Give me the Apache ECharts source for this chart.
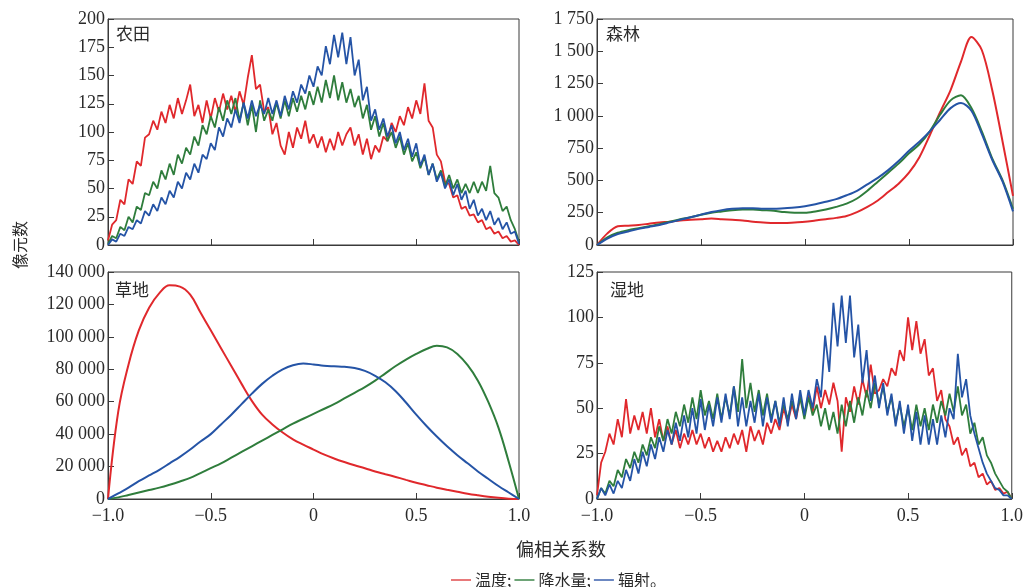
<!DOCTYPE html>
<html><head><meta charset="utf-8">
<script src="https://cdn.jsdelivr.net/npm/echarts@6/dist/echarts.min.js"></script>
<style>html,body{margin:0;padding:0;background:#fff}#c{width:1026px;height:587px}</style>
</head><body><div id="c"></div>
<script>
// ---- categories / labels ----
const seriesNames = ['温度', '降水量', '辐射'];
const panelNames = ['农田', '森林', '草地', '湿地'];
const yAxisName = '像元数';
const xAxisName = '偏相关系数';
const yMax = [200, 1750, 140000, 125];
const yStep = [25, 250, 20000, 25];

// bin centres of the partial correlation coefficient
const xFine = Array.from({length: 101}, (_, i) => +(-1 + i * 0.02).toFixed(2));
const xCoarse = Array.from({length: 41}, (_, i) => +(-1 + i * 0.05).toFixed(2));

// ---- 农田 (fine bins) ----
const farmTemp = [4,18,22,40,36,58,54,74,70,95,
98,110,102,118,108,124,112,130,116,128,
142,114,124,108,128,112,130,118,134,120,
132,118,136,124,148,168,138,142,118,122,
98,108,88,80,100,86,104,94,110,90,
98,86,96,82,94,84,100,88,98,104,
88,98,80,94,76,88,82,96,92,108,
100,114,106,122,112,128,116,143,110,104,
80,74,56,54,42,44,32,34,26,27,
20,22,14,16,10,12,6,8,3,4,
0];
const farmPrec = [1,8,6,16,13,25,20,34,31,46,
44,56,50,66,58,72,62,80,72,86,
80,96,88,106,98,114,104,122,110,128,
116,130,110,126,106,124,100,128,110,120,
110,126,112,128,114,130,118,132,120,136,
124,140,126,146,130,150,128,144,126,138,
122,132,112,124,102,114,96,108,92,100,
86,96,80,90,74,82,68,78,62,72,
58,66,52,62,50,58,46,54,46,56,
46,56,48,70,46,42,30,34,22,14,
3];
const farmRad = [0,5,3,10,8,16,14,22,19,30,
26,36,30,42,36,48,42,56,50,64,
58,72,64,80,76,90,84,104,96,112,
104,120,108,126,112,128,114,124,116,130,
116,128,114,132,120,136,126,142,134,150,
140,158,150,176,160,186,166,188,160,184,
150,164,128,140,110,120,102,112,96,106,
90,100,84,94,78,90,70,80,62,72,
56,64,50,58,44,54,40,48,32,40,
26,32,22,30,18,24,14,20,10,12,
1];

// ---- 森林 (coarse bins) ----
const forestTemp = [0,90,145,150,155,165,175,180,190,195,
200,205,200,195,190,180,175,170,170,175,
180,190,200,210,225,255,295,345,410,475,
560,680,850,1030,1200,1420,1610,1510,1200,800,
380];
const forestPrec = [0,60,95,115,130,145,160,180,200,215,
235,250,260,270,275,275,270,265,255,250,
250,260,275,295,320,360,420,490,560,630,
710,780,880,1010,1120,1160,1060,880,670,500,
280];
const forestRad = [0,50,85,105,125,140,155,175,195,215,
235,255,270,280,285,285,280,280,285,290,
300,315,335,355,385,420,470,520,580,650,
730,800,880,970,1060,1100,1040,860,660,490,
260];

// ---- 草地 (coarse bins) ----
const grassTemp = [0,54000,83000,104000,118000,127000,131800,131000,126000,115000,
104000,93000,82000,71000,60500,52000,46000,41000,36800,33500,
30500,27500,25000,22800,20800,19000,17000,15300,13600,11800,
10000,8500,7000,5700,4500,3300,2300,1400,700,200,
0];
const grassPrec = [0,1000,2500,4000,5500,7000,8800,10800,13000,16000,
19000,22000,25500,29000,32500,36000,39500,43000,46500,49500,
52500,55500,58500,62000,65500,69000,73000,77500,82000,86000,
89500,92500,94500,93500,89500,82500,73000,60000,44000,23000,
0];
const grassRad = [0,3500,7000,11000,14500,18000,22000,26000,30500,35500,
40000,46000,52000,58500,65000,71000,76000,80000,82500,83500,
83000,82200,81800,81500,80800,79000,76000,72000,66500,59500,
52000,45000,38500,32500,27000,22000,17000,12500,8000,4000,
0];

// ---- 湿地 (fine bins) ----
const wetTemp = [2,20,26,36,30,44,34,55,36,46,
38,48,36,50,34,44,32,40,30,38,
28,36,30,38,30,36,28,34,26,32,
26,34,28,36,30,38,26,40,32,38,
30,42,36,44,38,50,42,52,44,56,
46,58,48,62,50,60,52,64,54,26,
56,48,62,52,66,56,74,58,60,66,
62,72,68,82,76,100,82,98,80,88,
68,72,54,60,44,40,30,34,24,28,
18,20,12,14,8,10,5,6,3,4,
0];
const wetPrec = [0,6,3,10,7,16,12,22,17,26,
20,30,24,34,28,40,32,44,36,48,
40,52,42,56,44,60,46,54,44,58,
44,56,46,62,48,77,50,64,48,60,
46,58,44,54,42,52,44,54,46,56,
44,56,46,52,40,50,38,48,36,52,
40,54,42,56,46,60,50,64,52,62,
48,56,42,52,40,50,38,52,40,50,
38,52,42,54,46,58,48,62,46,52,
36,42,30,34,24,20,14,10,6,4,
0];
const wetRad = [0,6,2,8,3,10,6,16,10,22,
14,26,18,30,22,34,26,38,30,42,
32,46,34,50,36,55,38,52,40,56,
42,58,44,62,40,56,40,54,42,58,
40,56,42,54,40,56,40,58,44,60,
46,60,50,66,56,90,70,108,84,112,
86,112,78,96,64,82,54,68,50,64,
46,58,40,54,36,52,32,48,30,46,
30,44,30,46,34,50,44,80,56,66,
46,36,28,20,14,10,6,5,2,2,
0];

// ---- styling ----
const colors = ['#e0282c', '#2f7d3c', '#2554a6'];
const legendColors = ['#e8797a', '#6ea477', '#6c88c2'];
const axisColor = '#3a3a3a';
const textColor = '#2a2a2a';
const serif = '"Liberation Serif", "Times New Roman", serif';
const cjk = '"Noto Sans CJK SC", sans-serif';

const panels = [
  {xs: xFine, data: [farmTemp, farmPrec, farmRad], smooth: false, width: 1.8},
  {xs: xCoarse, data: [forestTemp, forestPrec, forestRad], smooth: 0.3, width: 2},
  {xs: xCoarse, data: [grassTemp, grassPrec, grassRad], smooth: 0.4, width: 2},
  {xs: xFine, data: [wetTemp, wetPrec, wetRad], smooth: false, width: 1.8}
];

const grids = [
  {left: 108, top: 19, width: 411, height: 226},
  {left: 597, top: 19, width: 416, height: 226},
  {left: 108, top: 272, width: 411, height: 227},
  {left: 597, top: 272, width: 416, height: 227}
].map(g => Object.assign(g, {show: true, borderColor: axisColor, borderWidth: 1, backgroundColor: 'transparent'}));

const fmtX = v => v === 0 ? '0' : (v < 0 ? '\u2212' : '') + Math.abs(v).toFixed(1);
const fmtY = v => String(v).replace(/\B(?=(\d{3})+(?!\d))/g, ' ');

const xAxes = grids.map((g, i) => ({
  type: 'value', gridIndex: i, min: -1, max: 1, interval: 0.5,
  axisLine: {show: true, onZero: false, lineStyle: {color: axisColor, width: 1}},
  axisTick: {show: true, inside: true, length: 6, lineStyle: {color: axisColor}},
  splitLine: {show: false},
  axisLabel: {show: i >= 2, formatter: fmtX, margin: 8, fontFamily: serif, fontSize: 18, color: textColor}
}));
const yAxes = grids.map((g, i) => ({
  type: 'value', gridIndex: i, min: 0, max: yMax[i], interval: yStep[i],
  axisLine: {show: true, onZero: false, lineStyle: {color: axisColor, width: 1}},
  axisTick: {show: true, inside: true, length: 6, lineStyle: {color: axisColor}},
  splitLine: {show: false},
  axisLabel: {formatter: fmtY, margin: 3, fontFamily: serif, fontSize: 18, color: textColor}
}));

const series = [];
panels.forEach((p, pi) => {
  p.data.forEach((vals, si) => {
    series.push({
      type: 'line', name: seriesNames[si], xAxisIndex: pi, yAxisIndex: pi,
      data: p.xs.map((x, k) => [x, vals[k]]),
      showSymbol: false, symbol: 'none', smooth: p.smooth, animation: false,
      lineStyle: {color: colors[si], width: p.width},
      itemStyle: {color: colors[si]}, z: 2 + si
    });
  });
});

const titlePos = [[116, 25], [606, 25], [115, 281], [610, 281]];
const titles = panelNames.map((n, i) => ({
  text: n, left: titlePos[i][0], top: titlePos[i][1], padding: 0,
  textStyle: {fontFamily: cjk, fontSize: 17, fontWeight: 'normal', color: textColor}
}));

const chart = echarts.init(document.getElementById('c'), null, {renderer: 'canvas'});
chart.setOption({
  animation: false,
  backgroundColor: '#fff',
  title: titles,
  grid: grids,
  xAxis: xAxes,
  yAxis: yAxes,
  series: series,
  legend: {
    left: 446, top: 567, itemWidth: 20, itemHeight: 2, itemGap: 3, icon: 'rect',
    selectedMode: false,
    data: seriesNames.map((n, i) => ({name: n, itemStyle: {color: legendColors[i]}})),
    formatter: n => n + (n === seriesNames[2] ? '。' : ';'),
    textStyle: {fontFamily: cjk, fontSize: 16, color: textColor, padding: [0, 0, 0, -1]}
  },
  graphic: [
    {type: 'text', x: 20, y: 245, rotation: Math.PI / 2,
     style: {text: yAxisName, font: '16px ' + cjk, fill: textColor, align: 'center', verticalAlign: 'middle'}},
    {type: 'text', x: 561, y: 549,
     style: {text: xAxisName, font: '18px ' + cjk, fill: textColor, align: 'center', verticalAlign: 'middle'}}
  ]
});
</script></body></html>
